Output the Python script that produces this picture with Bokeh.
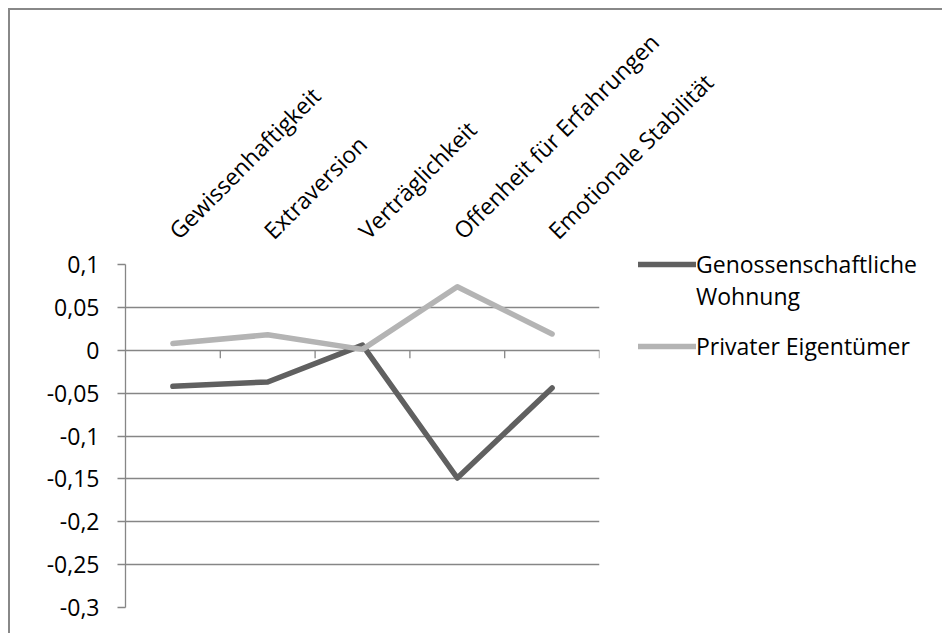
from math import pi
from bokeh.plotting import figure
from bokeh.models import (FactorRange, Range1d, FixedTicker, CustomJSTickFormatter,
                          Legend, LegendItem, ColumnDataSource)
from bokeh.embed import file_html
from bokeh.resources import INLINE

categories = ["Gewissenhaftigkeit", "Extraversion", "Verträglichkeit",
              "Offenheit für Erfahrungen", "Emotionale Stabilität"]
genossenschaft = [-0.042, -0.037, 0.006, -0.149, -0.044]
privat = [0.008, 0.018, 0.001, 0.074, 0.019]
y_ticks = [-0.3, -0.25, -0.2, -0.15, -0.1, -0.05, 0.0, 0.05, 0.1]
series_names = ["Genossenschaftliche\nWohnung", "Privater Eigentümer"]

FONT = "Open Sans"
FS = "23px"
AXIS_C = "#868686"

p = figure(frame_width=474, frame_height=343, output_backend="svg", toolbar_location=None,
           x_range=FactorRange(factors=categories, range_padding=0),
           y_range=Range1d(-0.3, 0.1), x_axis_location="above",
           min_border_left=115, min_border_top=254, min_border_right=343,
           min_border_bottom=26)
p.styles = {"margin-left": "8px", "margin-top": "8px",
            "border-top": "2px solid #888888", "border-left": "2px solid #888888"}
p.outline_line_color = None
p.background_fill_color = "white"
p.border_fill_color = "white"

# x axis (labels above, rotated)
xa = p.xaxis[0]
xa.axis_line_color = None
xa.major_tick_line_color = None
xa.minor_tick_line_color = None
xa.major_label_orientation = pi / 4
xa.major_label_standoff = 24
xa.major_label_text_font = FONT
xa.major_label_text_font_size = FS
xa.major_label_text_color = "black"
p.xgrid.grid_line_color = None

# y axis
ya = p.yaxis[0]
ya.ticker = FixedTicker(ticks=y_ticks)
ya.formatter = CustomJSTickFormatter(code="""
let s = tick.toFixed(2);
if (s.indexOf('.') >= 0) { s = s.replace(/0+$/, '').replace(/\\.$/, ''); }
if (s === '-0') s = '0';
return s.replace('.', ',');
""")
ya.axis_line_color = AXIS_C
ya.axis_line_width = 1.3
ya.major_tick_line_color = AXIS_C
ya.major_tick_line_width = 1.3
ya.major_tick_in = 0
ya.major_tick_out = 8
ya.minor_tick_line_color = None
ya.major_label_standoff = 18
ya.major_label_text_font = FONT
ya.major_label_text_font_size = FS
ya.major_label_text_color = "black"
p.ygrid.ticker = FixedTicker(ticks=y_ticks)
p.ygrid.grid_line_color = AXIS_C
p.ygrid.grid_line_width = 1.3

# category axis tick marks on the zero line (between categories)
n = len(categories)
px_per_unit = 343 / 0.4
tick_len = 8 / px_per_unit
bnd = list(range(1, n + 1))
p.segment(x0=bnd, y0=[0] * n, x1=bnd, y1=[-tick_len] * n,
          line_color=AXIS_C, line_width=1.3)

src = ColumnDataSource(dict(x=categories, g=genossenschaft, pr=privat))
r1 = p.line("x", "g", source=src, line_color="#606060", line_width=5.5,
            line_join="round", line_cap="round")
r2 = p.line("x", "pr", source=src, line_color="#b4b4b4", line_width=5.5,
            line_join="round", line_cap="round")

# blank first line keeps the legend line level with the first text line
legend = Legend(items=[LegendItem(label=" \n" + series_names[0], renderers=[r1]),
                       LegendItem(label=series_names[1], renderers=[r2])],
                location=(39, 245), padding=0, margin=0, spacing=18,
                glyph_width=58, glyph_height=20, label_standoff=0,
                label_text_font=FONT, label_text_font_size=FS,
                label_text_line_height=1.38, label_text_color="black",
                border_line_color=None, background_fill_alpha=0)
p.add_layout(legend, "right")

open("out.html", "w").write(file_html(p, INLINE))
